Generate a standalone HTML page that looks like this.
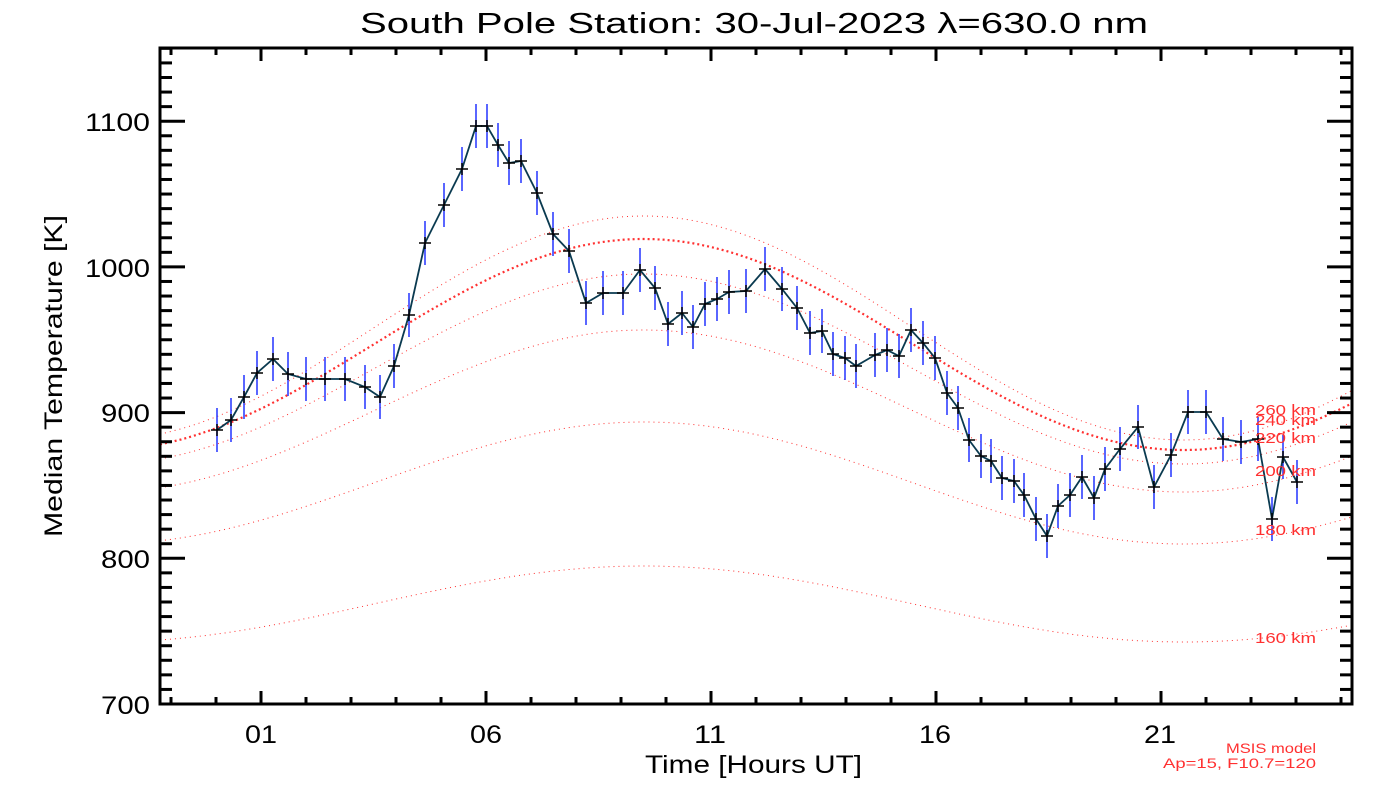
<!DOCTYPE html>
<html><head><meta charset="utf-8"><style>
html,body{margin:0;padding:0;background:#fff;}
svg{display:block;font-family:"Liberation Sans",sans-serif;}
</style></head><body>
<svg id="s" width="1400" height="800" viewBox="0 0 1400 800" xmlns="http://www.w3.org/2000/svg">
<rect width="1400" height="800" fill="#fff"/>
<text x="360" y="33" font-size="29" textLength="788" lengthAdjust="spacingAndGlyphs" fill="#000">South Pole Station: 30-Jul-2023 λ=630.0 nm</text>
<g id="curves"></g>
<g id="data"></g>
<g id="axes"></g>
<g font-size="15" fill="#ff3030">
<text x="1255" y="415" textLength="61" lengthAdjust="spacingAndGlyphs">260 km</text>
<text x="1255" y="425" textLength="61" lengthAdjust="spacingAndGlyphs">240 km</text>
<text x="1255" y="443" textLength="61" lengthAdjust="spacingAndGlyphs">220 km</text>
<text x="1255" y="476" textLength="61" lengthAdjust="spacingAndGlyphs">200 km</text>
<text x="1255" y="535" textLength="61" lengthAdjust="spacingAndGlyphs">180 km</text>
<text x="1255" y="643" textLength="61" lengthAdjust="spacingAndGlyphs">160 km</text>
<text x="1226" y="753" font-size="14" textLength="90" lengthAdjust="spacingAndGlyphs">MSIS model</text>
<text x="1163" y="768" font-size="14" textLength="153" lengthAdjust="spacingAndGlyphs">Ap=15, F10.7=120</text>
</g>
<g font-size="25" fill="#000">
<text x="85" y="131" textLength="65" lengthAdjust="spacingAndGlyphs">1100</text>
<text x="85" y="277" textLength="65" lengthAdjust="spacingAndGlyphs">1000</text>
<text x="101" y="422" textLength="49" lengthAdjust="spacingAndGlyphs">900</text>
<text x="101" y="568" textLength="49" lengthAdjust="spacingAndGlyphs">800</text>
<text x="101" y="714" textLength="49" lengthAdjust="spacingAndGlyphs">700</text>
<text x="245" y="743" textLength="32" lengthAdjust="spacingAndGlyphs">01</text>
<text x="470" y="743" textLength="32" lengthAdjust="spacingAndGlyphs">06</text>
<text x="694" y="743" textLength="32" lengthAdjust="spacingAndGlyphs">11</text>
<text x="919" y="743" textLength="32" lengthAdjust="spacingAndGlyphs">16</text>
<text x="1144" y="743" textLength="32" lengthAdjust="spacingAndGlyphs">21</text>
<text x="645" y="773" textLength="217" lengthAdjust="spacingAndGlyphs">Time [Hours UT]</text>
<text transform="translate(62,537) rotate(-90)" textLength="322" lengthAdjust="spacingAndGlyphs">Median Temperature [K]</text>
</g>
</svg>
<script>
var NS="http://www.w3.org/2000/svg";
function el(p,t,a){var e=document.createElementNS(NS,t);for(var k in a)e.setAttribute(k,a[k]);p.appendChild(e);return e;}
var L=160,R=1352,T=48,B=704;
function hx(h){return 216+45*h;}
var cv=document.getElementById('curves');
var prm=[[604,38,1],[483,61,1],[411,81,1],[369,95,1],[344.5,105.5,2.2],[328,112,1]];
prm.forEach(function(p){
 var d="";
 for(var x=L;x<=R;x+=3){var h=(x-216)/45;var y=p[0]-p[1]*Math.cos((h-9.5)*2*Math.PI/24);d+=(x==L?"M":"L")+x+" "+y.toFixed(1);}
 el(cv,'path',{d:d,fill:'none',stroke:'#ff3030','stroke-width':p[2],'stroke-dasharray':p[2]>1?'2 3':'1 4'});
});
var pts=[[217,430],[231,420],[244,397],[257,373],[273,359],[288,374],[306,379],[325,379],[345,379],[365,387],[380,397],[394,366],[409,315],[425,243],[444,205],[462,169],[476,126],[487,126],[498,145],[509,163],[521,161],[537,193],[553,234],[569,251],[586,303],[603,293],[623,293],[640,270],[655,288],[668,324],[682,313],[693,327],[705,304],[717,299],[729,292],[746,291],[765,269],[782,289],[797,308],[810,333],[822,331],[833,354],[845,358],[856,366],[875,355],[887,350],[899,356],[911,330],[923,343],[935,358],[947,393],[958,408],[969,440],[981,456],[991,461],[1002,478],[1014,481],[1024,495],[1036,519],[1047,536],[1058,506],[1070,495],[1082,477],[1094,498],[1105,469],[1120,449],[1138,427],[1154,487],[1171,455],[1188,412],[1206,412],[1223,439],[1241,442],[1258,439],[1272,519],[1283,457],[1297,482]];
var dg=document.getElementById('data');
pts.forEach(function(p){el(dg,'line',{x1:p[0],y1:p[1]-22,x2:p[0],y2:p[1]+22,stroke:'#3040ff','stroke-width':1.6});});
el(dg,'polyline',{points:pts.map(function(p){return p.join(',')}).join(' '),fill:'none',stroke:'#0a3a50','stroke-width':1.8});
pts.forEach(function(p){el(dg,'path',{d:'M'+(p[0]-6)+' '+p[1]+'h12M'+p[0]+' '+(p[1]-6)+'v12',stroke:'#000','stroke-width':1.5});});
var ax=document.getElementById('axes');
el(ax,'rect',{x:L,y:T,width:R-L,height:B-T,fill:'none',stroke:'#000','stroke-width':3});
for(var v=700;v<=1150;v+=10){var y=704-(v-700)*1.457;var maj=(v%100==0);var len=maj?25:12;
 el(ax,'line',{x1:L,y1:y,x2:L+len,y2:y,stroke:'#000','stroke-width':3});
 el(ax,'line',{x1:R,y1:y,x2:R-len,y2:y,stroke:'#000','stroke-width':3});}
for(var h=-1;h<=25;h++){var x=hx(h);var maj=((h-1)%5==0);var len=maj?13:7;
 el(ax,'line',{x1:x,y1:B,x2:x,y2:B-len,stroke:'#000','stroke-width':3});
 el(ax,'line',{x1:x,y1:T,x2:x,y2:T+len,stroke:'#000','stroke-width':3});}
</script>
</body></html>
